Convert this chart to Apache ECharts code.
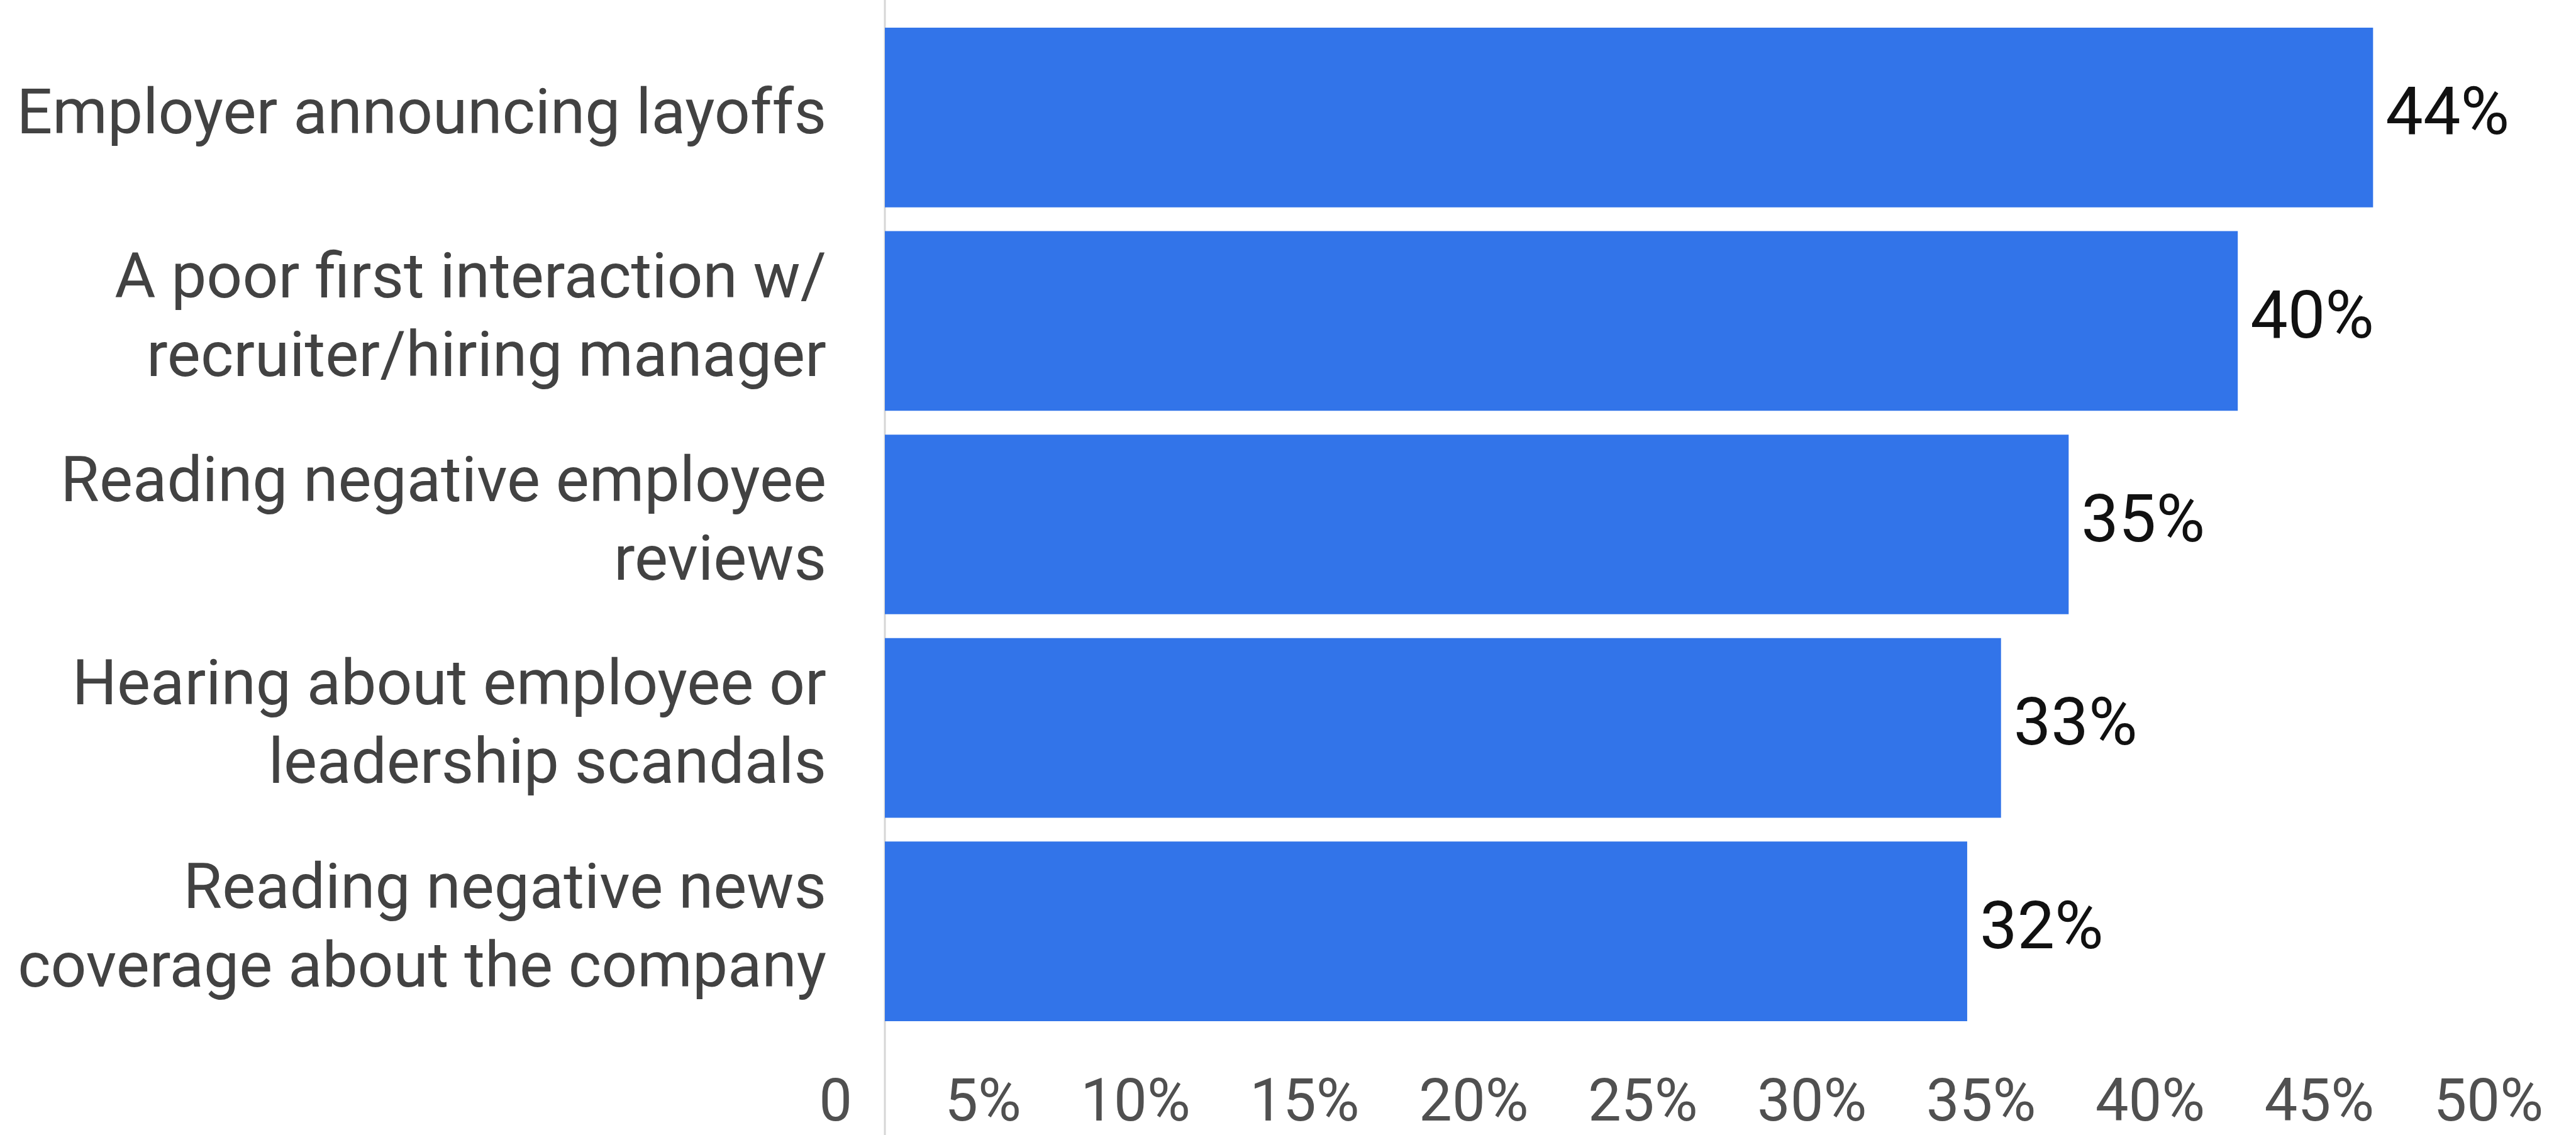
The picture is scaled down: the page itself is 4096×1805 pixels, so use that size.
<!DOCTYPE html>
<html>
<head>
<meta charset="utf-8">
<script src="https://cdn.jsdelivr.net/npm/echarts@6/dist/echarts.min.js"></script>
<style>
	html, body { margin: 0; padding: 0; background: #fff; }
	#container { width: 4096px; height: 1805px; }
</style>
</head>
<body>
<div id="container"></div>
<script>
// categories top to bottom
var categories = [
	'Employer announcing layoffs',
	'A poor first interaction w/\nrecruiter/hiring manager',
	'Reading negative employee\nreviews',
	'Hearing about employee or\nleadership scandals',
	'Reading negative news\ncoverage about the company'
];
var values = [44, 40, 35, 33, 32];
var xTickLabels = ['0', '5%', '10%', '15%', '20%', '25%', '30%', '35%', '40%', '45%', '50%'];

var myChart = echarts.init(document.getElementById('container'));
var font = 'Roboto, "Noto Sans", sans-serif';

var option = {
	backgroundColor: '#fff',
	animation: false,
	grid: { left: 1407, right: 0, top: 25, bottom: 161 },
	xAxis: {
		type: 'value',
		min: 0,
		max: 50,
		interval: 5,
		axisLine: { show: false },
		axisTick: { show: false },
		splitLine: { show: false },
		axisLabel: {
			margin: 68,
			align: 'right',
			padding: [0, 52, 0, 0],
			color: '#505050',
			fontSize: 94,
			fontFamily: font
		,
			formatter: function(v) { return xTickLabels[Math.round(v / 5)]; }
		}
	},
	yAxis: {
		type: 'category',
		inverse: true,
		data: categories,
		axisLine: { show: false },
		axisTick: { show: false },
		axisLabel: {
			margin: 93,
			color: '#424242',
			fontSize: 100,
			lineHeight: 125,
			fontFamily: font
		}
	},
	series: [{
		type: 'bar',
		data: values,
		barCategoryGap: '11.7%',
		itemStyle: { color: '#3274e9' },
		label: {
			show: true,
			position: 'right',
			distance: 20,
			color: '#111',
			fontSize: 106,
			fontFamily: font,
			formatter: '{c}%'
		}
	}]
};
myChart.setOption(option);

// thin vertical axis line running the full height
var x0 = myChart.convertToPixel({ xAxisIndex: 0 }, 0);
myChart.setOption({
	graphic: [{
		type: 'line',
		shape: { x1: x0, y1: 0, x2: x0, y2: 1805 },
		style: { stroke: '#d6d6d6', lineWidth: 3 },
		z: 0
	}]
});
</script>
</body>
</html>
